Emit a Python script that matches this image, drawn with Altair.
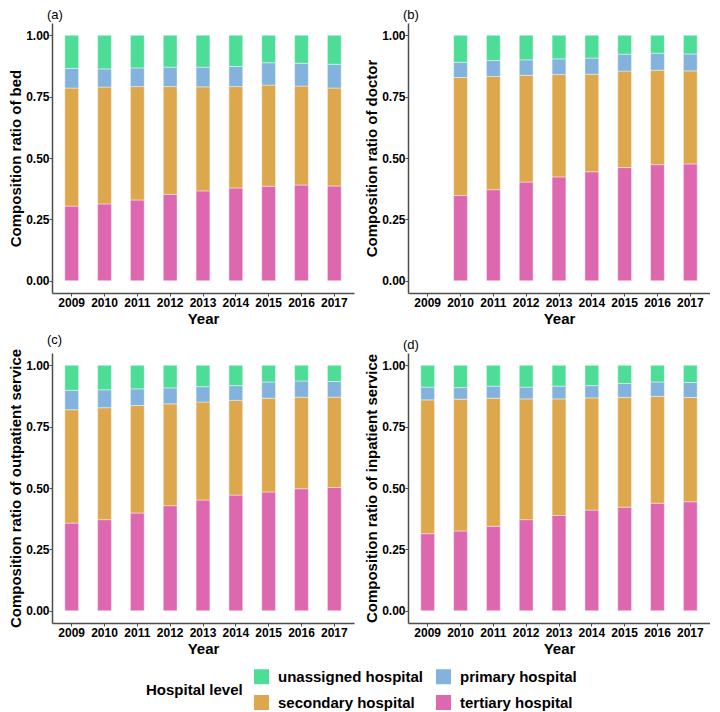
import altair as alt
import pandas as pd

years = ["2009", "2010", "2011", "2012", "2013", "2014", "2015", "2016", "2017"]
levels = ["unassigned hospital", "primary hospital", "secondary hospital", "tertiary hospital"]
colors = ["#4EDD97", "#83B3DC", "#DDA84D", "#DE68AF"]

# shares per panel (tertiary, secondary, primary, unassigned)
bed_tert = [0.304, 0.313, 0.329, 0.352, 0.366, 0.378, 0.385, 0.390, 0.386]
bed_sec = [0.481, 0.476, 0.462, 0.439, 0.424, 0.413, 0.412, 0.403, 0.399]
bed_prim = [0.080, 0.074, 0.076, 0.079, 0.080, 0.082, 0.091, 0.093, 0.097]
bed_unas = [0.135, 0.137, 0.133, 0.130, 0.130, 0.127, 0.112, 0.114, 0.118]

doc_tert = [None, 0.347, 0.371, 0.402, 0.423, 0.444, 0.461, 0.473, 0.476]
doc_sec = [None, 0.481, 0.461, 0.435, 0.417, 0.397, 0.393, 0.385, 0.379]
doc_prim = [None, 0.062, 0.065, 0.063, 0.064, 0.066, 0.069, 0.069, 0.069]
doc_unas = [None, 0.110, 0.103, 0.100, 0.096, 0.093, 0.077, 0.073, 0.076]

out_tert = [0.357, 0.371, 0.398, 0.428, 0.451, 0.471, 0.484, 0.497, 0.502]
out_sec = [0.462, 0.456, 0.438, 0.415, 0.399, 0.386, 0.382, 0.373, 0.368]
out_prim = [0.079, 0.073, 0.068, 0.065, 0.063, 0.060, 0.066, 0.066, 0.064]
out_unas = [0.102, 0.100, 0.096, 0.092, 0.087, 0.083, 0.068, 0.064, 0.066]

inp_tert = [0.314, 0.325, 0.344, 0.371, 0.388, 0.410, 0.422, 0.438, 0.444]
inp_sec = [0.545, 0.537, 0.522, 0.492, 0.475, 0.457, 0.447, 0.435, 0.425]
inp_prim = [0.052, 0.047, 0.049, 0.048, 0.052, 0.050, 0.057, 0.059, 0.061]
inp_unas = [0.089, 0.091, 0.085, 0.089, 0.085, 0.083, 0.074, 0.068, 0.070]

FONT = "Liberation Sans"


def make_df(tert, sec, prim, unas):
    rows = []
    for series, name, order in [(tert, "tertiary hospital", 0), (sec, "secondary hospital", 1),
                                (prim, "primary hospital", 2), (unas, "unassigned hospital", 3)]:
        for y, v in zip(years, series):
            if v is not None:
                rows.append({"year": y, "level": name, "share": v, "ord": order})
    return pd.DataFrame(rows)


def panel(df, label, ytitle):
    return alt.Chart(df, title=alt.TitleParams(
        label, anchor="start", frame="group", fontSize=13, fontWeight="normal",
        font=FONT, color="black", offset=1, dx=-5)).mark_bar(
        stroke="white", strokeWidth=0.6, strokeOpacity=0.7
    ).encode(
        x=alt.X("year:O", title="Year",
                scale=alt.Scale(domain=years, paddingInner=0.58, paddingOuter=0.39),
                axis=alt.Axis(labelAngle=0, titlePadding=3, labelPadding=1)),
        y=alt.Y("share:Q", title=ytitle, stack="zero",
                scale=alt.Scale(domain=[-0.05, 1.05], nice=False, zero=False),
                axis=alt.Axis(values=[0, 0.25, 0.5, 0.75, 1.0], format=".2f",
                              titlePadding=2, labelPadding=0)),
        color=alt.Color("level:N", title="Hospital level",
                        scale=alt.Scale(domain=levels, range=colors),
                        legend=alt.Legend(
                            orient="none", legendX=94, legendY=646, columns=2,
                            direction="horizontal",
                            titleOrient="left", titleAnchor="middle", titleBaseline="middle",
                            symbolType="square", symbolSize=225, symbolStrokeWidth=0,
                            labelFontSize=15, labelFontWeight="bold", labelFont=FONT,
                            labelColor="black", titleFontSize=15, titleFontWeight="bold",
                            titleFont=FONT, titleColor="black", rowPadding=10,
                            columnPadding=12, labelOffset=9, titlePadding=11)),
        order=alt.Order("ord:Q", sort="ascending"),
    ).properties(width=302, height=270)


a = panel(make_df(bed_tert, bed_sec, bed_prim, bed_unas), "(a)", "Composition ratio of bed")
b = panel(make_df(doc_tert, doc_sec, doc_prim, doc_unas), "(b)", "Composition ratio of doctor")
c = panel(make_df(out_tert, out_sec, out_prim, out_unas), "(c)", "Composition ratio of outpatient service")
d = panel(make_df(inp_tert, inp_sec, inp_prim, inp_unas), "(d)", "Composition ratio of inpatient service")

chart = alt.vconcat(
    alt.hconcat(a, b, spacing=10),
    alt.hconcat(c, d, spacing=10),
    spacing=8,
).properties(
    padding={"left": 0, "top": 1, "right": 0, "bottom": 50}
).configure_view(stroke=None).configure_axis(
    grid=False,
    domainColor="#4d4d4d", domainWidth=1.5,
    tickColor="#4d4d4d", tickSize=3, tickWidth=1,
    labelFont=FONT, labelFontWeight="bold", labelFontSize=12, labelColor="black",
    titleFont=FONT, titleFontWeight="bold", titleFontSize=15, titleColor="black",
)

chart.save("out.html", embed_options={"renderer": "svg", "actions": False})
